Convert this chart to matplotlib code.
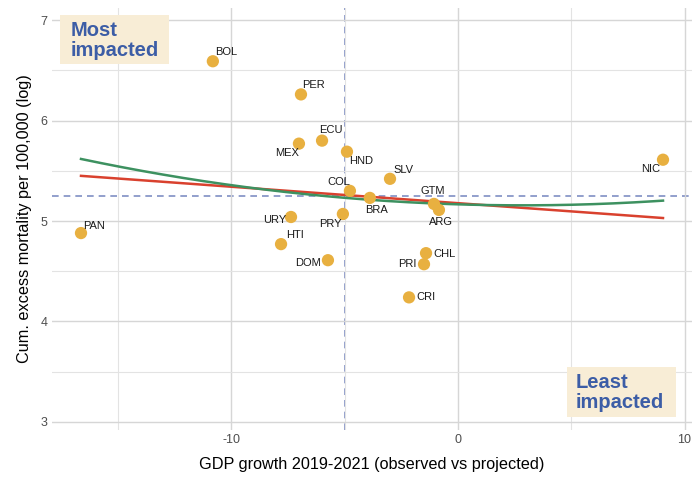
import numpy as np
import matplotlib
matplotlib.use("Agg")
import matplotlib.pyplot as plt
from matplotlib.patches import Rectangle
from matplotlib.ticker import MultipleLocator

plt.rcParams['font.family'] = ['Liberation Sans', 'DejaVu Sans']

# Country data: GDP growth gap (pp) vs log cumulative excess mortality per 100k
countries = ["BOL", "PER", "ECU", "MEX", "HND", "SLV", "COL", "BRA", "GTM", "ARG",
             "PRY", "URY", "HTI", "DOM", "CHL", "PRI", "CRI", "PAN", "NIC"]
gdp_growth = [-10.82, -6.93, -6.00, -7.02, -4.90, -3.00, -4.77, -3.89, -1.06, -0.84,
              -5.08, -7.37, -7.81, -5.74, -1.41, -1.50, -2.16, -16.64, 9.05]
excess_mort = [6.59, 6.26, 5.80, 5.77, 5.69, 5.42, 5.30, 5.23, 5.17, 5.11,
               5.07, 5.04, 4.77, 4.61, 4.68, 4.57, 4.24, 4.88, 5.61]

x_ref = -5.0  # vertical reference line

# label offsets in pixels (dx, dy) and horizontal alignment
label_pos = {
    "BOL": (2, 9, "left"), "PER": (1, 9, "left"), "ECU": (9, 11, "center"),
    "MEX": (0, -9, "right"), "HND": (2, -9, "left"), "SLV": (3, 9, "left"),
    "COL": (0, 9, "right"), "BRA": (7, -12, "center"), "GTM": (-1, 13, "center"),
    "ARG": (2, -12, "center"), "PRY": (-1, -10, "right"), "URY": (-5, -3, "right"),
    "HTI": (5, 9, "left"), "DOM": (-7, -3, "right"), "CHL": (7, -1, "left"),
    "PRI": (-7, 0, "right"), "CRI": (7, 0, "left"), "PAN": (2, 7, "left"),
    "NIC": (-3, -9, "right"),
}

x = np.array(gdp_growth)
y = np.array(excess_mort)

fig = plt.figure(figsize=(6.98, 4.83), dpi=100)
ax = fig.add_axes([52/698, 1-430/483, (692-52)/698, (430-8)/483])

ax.set_xlim(-17.92, 10.33)
ax.set_ylim(2.92, 7.12)
ax.xaxis.set_major_locator(MultipleLocator(10))
ax.xaxis.set_minor_locator(MultipleLocator(5))
ax.yaxis.set_major_locator(MultipleLocator(1))
ax.yaxis.set_minor_locator(MultipleLocator(0.5))
ax.grid(which="major", color="#d6d6d6", lw=1.0, zorder=0)
ax.grid(which="minor", color="#e3e3e3", lw=0.8, zorder=0)
for s in ax.spines.values():
    s.set_visible(False)
ax.tick_params(which="both", length=0)
ax.tick_params(axis="both", labelsize=9, labelcolor="#4d4d4d", pad=3)
ax.set_xticks([-10, 0, 10])
ax.set_xticklabels(["-10", "0", "10"])

# reference lines
ax.axvline(x_ref, color="#7f8fc4", lw=1.2, ls=(0, (4, 3)), zorder=1)
ax.axhline(y.mean(), color="#7f8fc4", lw=1.2, ls=(0, (4, 3)), zorder=1)

# fitted curves
xs = np.linspace(x.min(), x.max(), 200)
lin = np.polyfit(x, y, 1)
quad = np.polyfit(x, y, 2)
ax.plot(xs, np.polyval(lin, xs), color="#d9412e", lw=1.8, zorder=2)
ax.plot(xs, np.polyval(quad, xs), color="#3d9160", lw=1.8, zorder=2)

ax.scatter(x, y, s=78, color="#e8b040", edgecolors="none", zorder=3)

for c, xi, yi in zip(countries, x, y):
    dx, dy, ha = label_pos[c]
    ax.annotate(c, (xi, yi), xytext=(dx*0.72, dy*0.72), textcoords="offset points",
                ha=ha, va="center", fontsize=8, color="#1a1a1a", zorder=4)

# quadrant callouts
callouts = [("Most\nimpacted", -17.57, 6.56, 4.81, 0.49, -17.09),
            ("Least\nimpacted", 4.81, 3.05, 4.81, 0.50, 5.20)]
for txt, bx, by, bw, bh, tx in callouts:
    ax.add_patch(Rectangle((bx, by), bw, bh, fc="#f8edd6", ec="none", zorder=5))
    ax.text(tx, by + bh/2 - 0.01, txt, fontsize=14.5, fontweight="bold",
            color="#3c5da6", linespacing=1.08, va="center", ha="left", zorder=6)

ax.set_xlabel("GDP growth 2019-2021 (observed vs projected)", fontsize=11.7, labelpad=8)
ax.set_ylabel("Cum. excess mortality per 100,000 (log)", fontsize=11.7, labelpad=6)

fig.savefig("out.png", dpi=100)
